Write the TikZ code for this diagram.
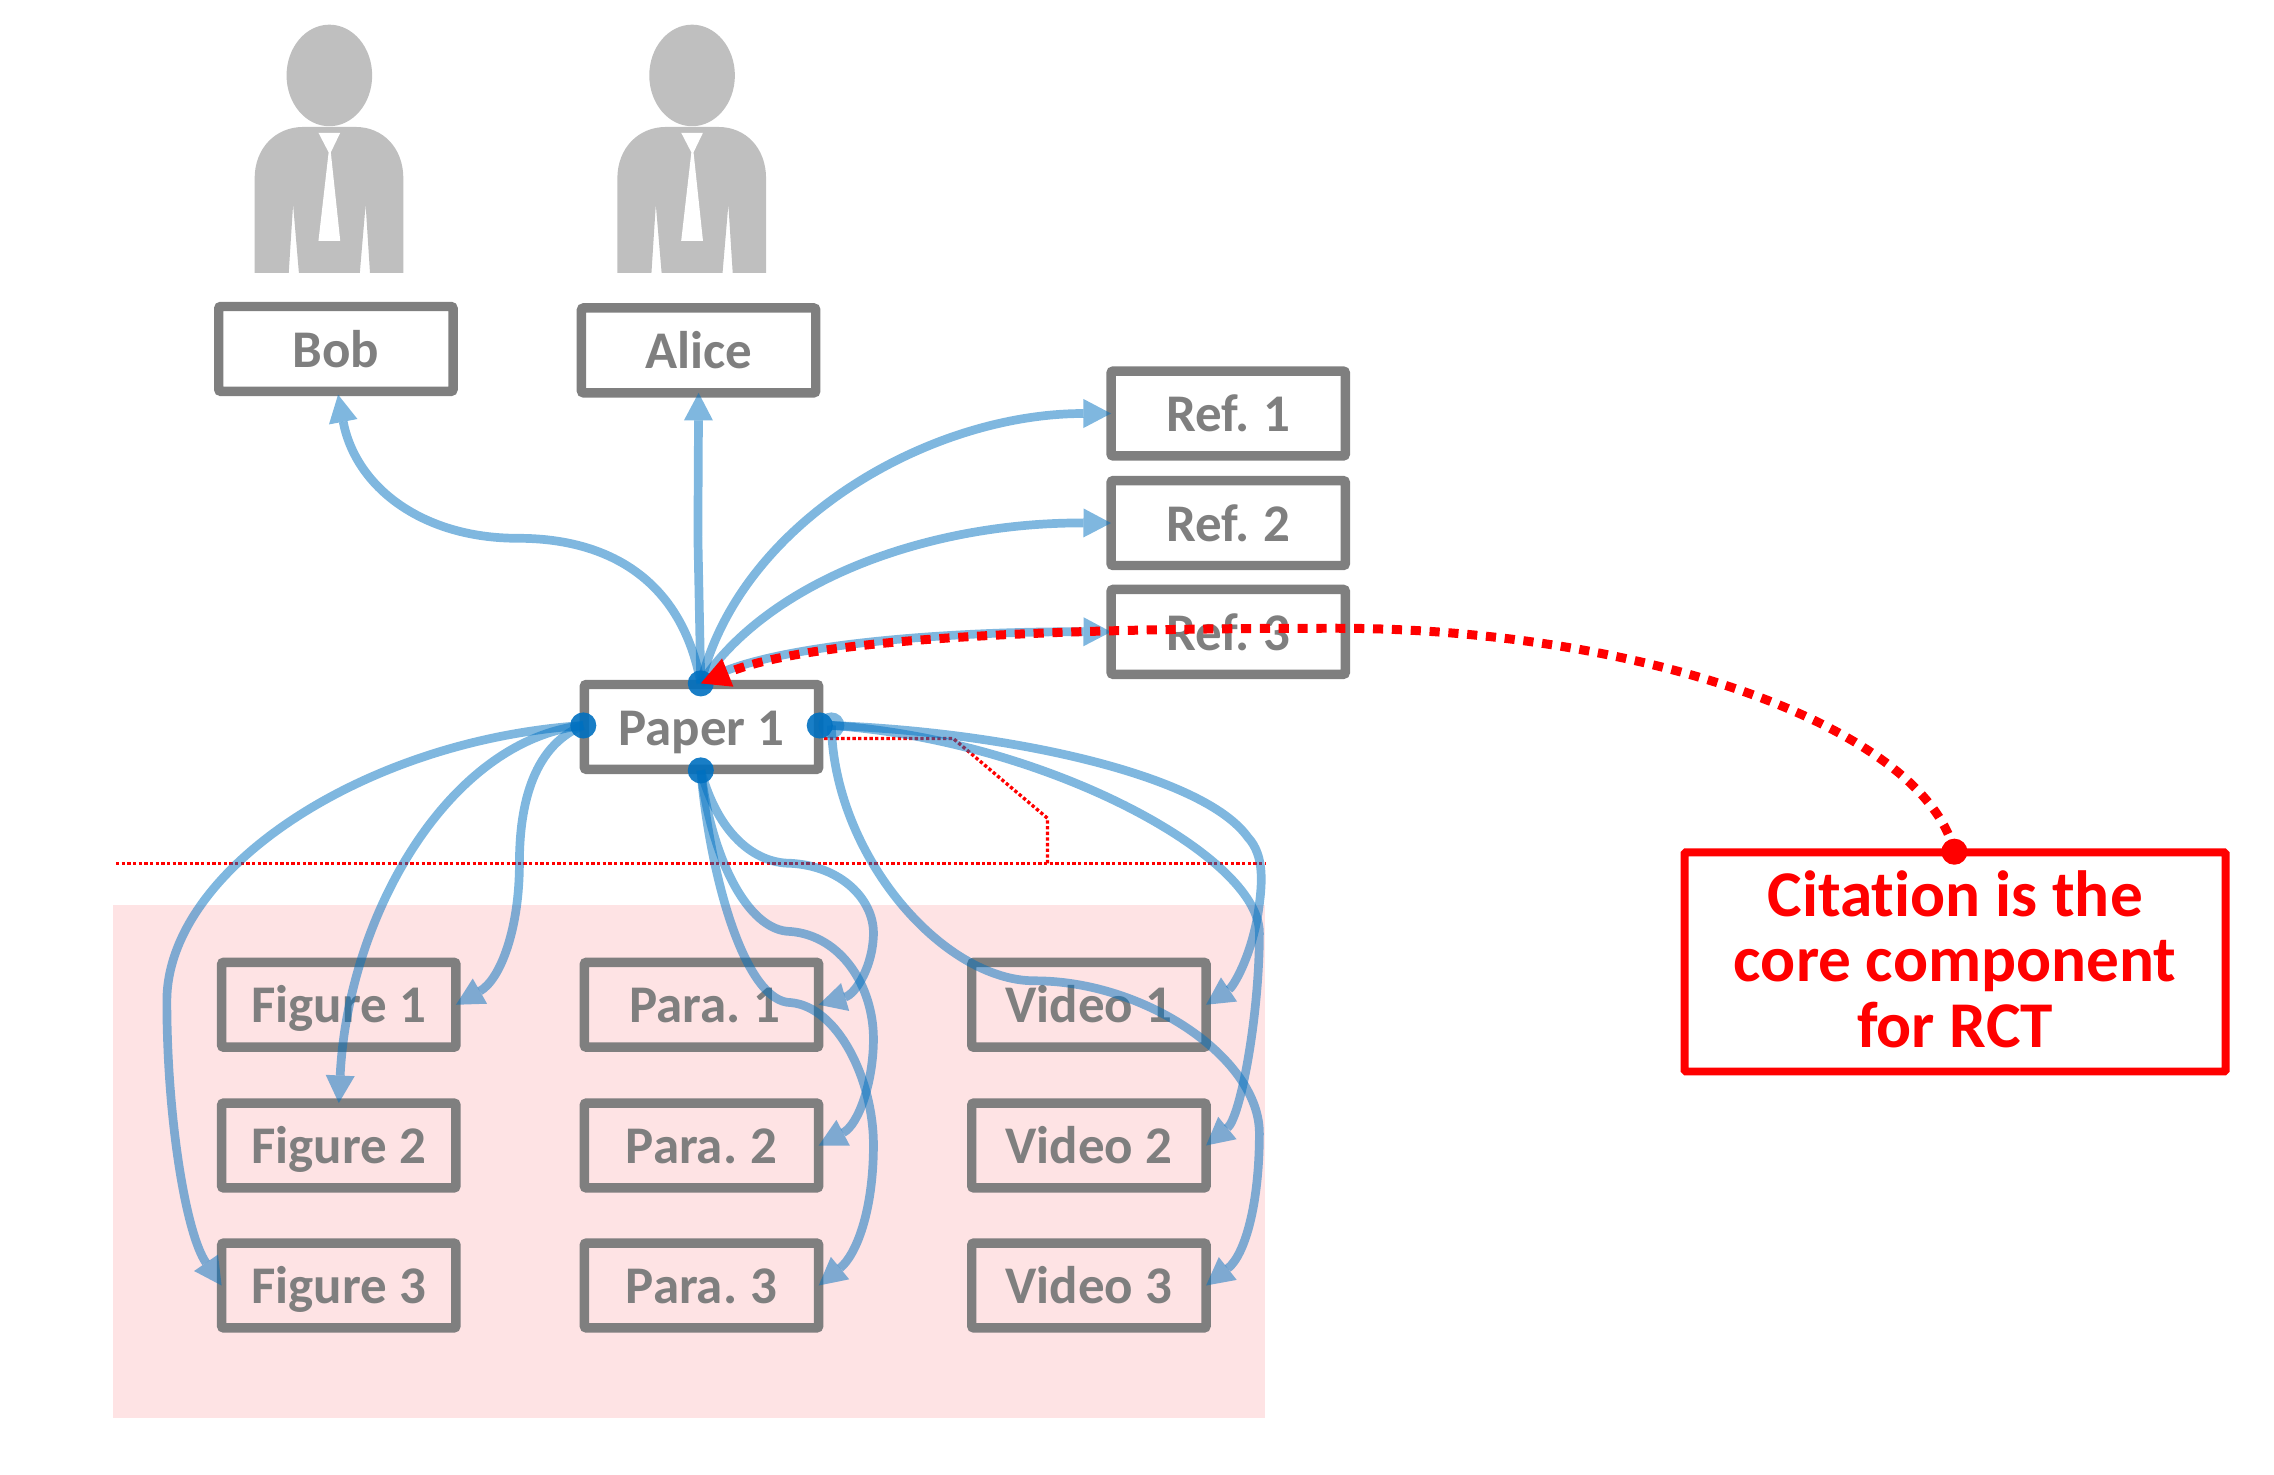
\documentclass[tikz,border=0pt]{standalone}
\usepackage{fontspec}
\setmainfont{Carlito}[Ligatures=NoCommon]
\usetikzlibrary{arrows.meta}
\definecolor{boxgrey}{HTML}{7F7F7F}
\definecolor{persongrey}{HTML}{BFBFBF}
\definecolor{linkblue}{HTML}{0070C0}
\definecolor{pinkzone}{HTML}{FEE3E4}
\tikzset{
  itembox/.style={draw=boxgrey,line width=6.5pt,rounded corners=1.5pt,minimum width=161.5pt,minimum height=58.5pt,inner sep=0pt,outer sep=0pt,
    text=boxgrey,text height=25pt,text depth=0pt,font=\fontsize{36.5}{40}\selectfont\bfseries},
  link/.style={draw=linkblue,draw opacity=.5,fill opacity=.5,line width=6pt,
    -{Triangle[length=19pt,width=20pt,fill=linkblue,line width=0pt]}},
  port/.style={circle,fill=linkblue,fill opacity=.9,inner sep=0pt,minimum size=18pt,outer sep=0pt},
  thinred/.style={draw=red,line width=2.3pt,dash pattern=on 2.3pt off 1.6pt},
  person/.pic={
    \fill[persongrey] (0,0) ellipse (29.5pt and 35pt);
    \fill[persongrey] (-51.5,136) -- (-51.5,71) .. controls (-51.5,50) and (-37,35.5) .. (-18,35.5)
       -- (18,35.5) .. controls (37,35.5) and (51,50) .. (51,71) -- (51,136)
       -- (28,136) -- (25,89) -- (21,136) -- (-21,136) -- (-25,89) -- (-28,136) -- cycle;
    \fill[white] (-7.5,39.5) -- (7.5,39.5) -- (1,53) -- (7.5,114) -- (-7.5,114) -- (-0.5,53) -- cycle;
  }
}
\begin{document}
\begin{tikzpicture}[x=1pt,y=-1pt]
\useasboundingbox (0,0) rectangle (1567.3,1016);
\fill[pinkzone] (78,624) rectangle (872,977);
\pic at (227,52) {person};
\pic at (477,52) {person};
\node[itembox] (bob) at (231.5,240.5) {Bob};
\node[itembox] (alice) at (481.5,241.5) {Alice};
\node[itembox] (ref1) at (846.5,285) {Ref.\kern-1.5pt{} 1};
\node[itembox] (ref2) at (846.5,360.5) {Ref.\kern-1.5pt{} 2};
\node[itembox] (ref3) at (846.5,435.5) {Ref.\kern-1.5pt{} 3};
\node[itembox] (paper) at (483.5,501) {Paper 1};
\node[itembox] (fig1) at (233.5,692.5) {Figure 1};
\node[itembox] (fig2) at (233.5,789.5) {Figure 2};
\node[itembox] (fig3) at (233.5,886) {Figure 3};
\node[itembox] (para1) at (483.5,692.5) {\kern5pt Para.\kern-2pt{} 1};
\node[itembox] (para2) at (483.5,789.5) {Para.\kern-2pt{} 2};
\node[itembox] (para3) at (483.5,886) {Para.\kern-2pt{} 3};
\node[itembox] (vid1) at (750.5,692.5) {Video 1};
\node[itembox] (vid2) at (750.5,789.5) {Video 2};
\node[itembox] (vid3) at (750.5,886) {Video 3};
\node[draw=red,line width=5.5pt,rounded corners=1pt,minimum width=373pt,minimum height=151pt,inner sep=0pt,outer sep=0pt,text=red,align=center,
  font=\fontsize{45}{45}\selectfont\bfseries] (note) at (1347.5,663) {Citation is the\\core component\\for RCT\rule[-4pt]{0pt}{4pt}};
% red guide lines
\coordinate (ga) at (80,595);
\coordinate (gb) at (872,595);
\coordinate (gc) at (722,595);
\coordinate (gd) at (722,564);
\coordinate (ge) at (657,509);
\coordinate (gf) at (567,509);
\draw[thinred] (ga) -- (gb);
\draw[thinred] (gc) -- (gd) -- (ge) -- (gf);
% ports
\node[port] (ptop) at (483,471) {};
\node[port] (pleft) at (402,500) {};
\node[port] (pright) at (565,500) {};
\node[port] (pbot) at (483,531) {};
\node[port,fill opacity=.5] (pright2) at (573,500) {};
\node[circle,fill=red,inner sep=0pt,minimum size=18pt] (notedot) at (1347,587) {};
% upward links
\draw[link] (ptop.center) .. controls (470,400) and (420,371) .. (357,371) .. controls (290,371) and (245,335) .. (233,272) ;
\draw[link] (ptop.center) -- (481,370) -- (alice.south);
\draw[link] (ptop.center) .. controls (510,360) and (640,285) .. (ref1.west);
\draw[link] (ptop.center) .. controls (530,400) and (640,360) .. (ref2.west);
\draw[link] (ptop.center) .. controls (520,445) and (650,435) .. (ref3.west);
% left links
\draw[link] (pleft.center) .. controls (250,510) and (115,600) .. (115,690) .. controls (115,770) and (128,850) .. (fig3.west);
\draw[link] (pleft.center) .. controls (310,510) and (240,630) .. (fig2.north);
\draw[link] (pleft.center) .. controls (365,515) and (358,560) .. (358,595) .. controls (358,640) and (345,675) .. (fig1.east);
% bottom links
\draw[link] (pbot.center) .. controls (495,575) and (520,595) .. (545,595) .. controls (580,597) and (602,620) .. (602,643) .. controls (602,665) and (590,685) .. (para1.east);
\draw[link] (pbot.center) .. controls (490,590) and (515,642) .. (545,642) .. controls (580,645) and (602,680) .. (602,716) .. controls (602,745) and (592,775) .. (para2.east);
\draw[link] (pbot.center) .. controls (490,610) and (515,691) .. (545,691) .. controls (578,694) and (602,745) .. (602,789) .. controls (602,835) and (590,865) .. (para3.east);
% right links
\draw[link] (pright2.center) .. controls (700,505) and (830,535) .. (860,577) .. controls (872,590) and (870,610) .. (867,630) .. controls (862,660) and (850,680) .. (vid1.east);
\draw[link] (pright2.center) .. controls (720,510) and (868,590) .. (868,643) .. controls (868,700) and (855,770) .. (vid2.east);
\draw[link] (pright2.center) .. controls (575,590) and (650,676) .. (713,676) .. controls (790,676) and (868,730) .. (868,781) .. controls (868,830) and (858,865) .. (vid3.east);
% citation link
\draw[draw=red,line width=6.2pt,dash pattern=on 7pt off 6pt,-{Triangle[length=20pt,width=21pt,fill=red,line width=0pt]}]
  (notedot.center) .. controls (1325,500) and (1130,433) .. (920,433) .. controls (720,433) and (560,440) .. (ptop.center);
\end{tikzpicture}
\end{document}
